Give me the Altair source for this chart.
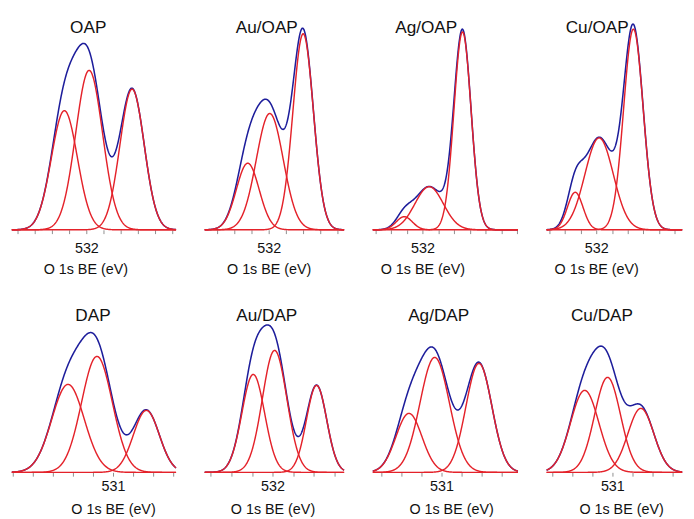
import numpy as np
import pandas as pd
import altair as alt

# ---- data (peak centre eV, height a.u., FWHM eV) ----
panels = ["OAP", "Au/OAP", "Ag/OAP", "Cu/OAP", "DAP", "Au/DAP", "Ag/DAP", "Cu/DAP"]
label_be = [532, 532, 532, 532, 531, 532, 531, 531]
be_left = [534.17, 533.86, 533.58, 533.58, 533.52, 533.65, 532.71, 532.64]
be_right = [529.39, 529.81, 528.97, 529.27, 529.43, 530.26, 529.10, 529.26]
peak_center = [
    [532.64, 531.92, 530.67],
    [532.61, 531.97, 531.00],
    [532.58, 531.79, 530.73],
    [532.67, 531.91, 530.82],
    [532.12, 531.40, 530.17],
    [532.47, 531.95, 530.93],
    [531.81, 531.17, 530.07],
    [531.69, 531.12, 530.29],
]
peak_height = [
    [127, 170, 150],
    [71, 124, 209],
    [14, 46, 211],
    [40, 98, 214],
    [88, 116, 62],
    [98, 122, 87],
    [59, 115, 109],
    [82, 95, 64],
]
peak_fwhm = [
    [0.89, 0.92, 0.83],
    [0.78, 0.92, 0.70],
    [0.60, 1.06, 0.64],
    [0.58, 1.06, 0.73],
    [0.95, 0.90, 0.76],
    [0.65, 0.70, 0.58],
    [0.76, 0.86, 0.76],
    [0.83, 0.76, 0.76],
]

# ---- layout / style ----
RED = "#e4222a"
BLUE = "#1d1d9b"
FONT = "Liberation Sans"
col_w = [172, 146, 152, 142]
row_h = [220, 179]
y_max = [224, 171]
title_x = [80, 65, 56, 53, 85, 65, 69, 58]
title_y = [0, 7]
axis_title_x = [77, 67, 52, 52, 106, 71, 82, 78]
label_pad = [8, 3]
title_pad = [7, 9]


def panel(i):
    r, c = divmod(i, 4)
    lo, hi = be_right[i], be_left[i]
    xs = np.linspace(lo, hi, 500)
    comps = []
    env = np.zeros_like(xs)
    for k, (cen, h, fw) in enumerate(zip(peak_center[i], peak_height[i], peak_fwhm[i])):
        s = fw / 2.3548
        yk = h * np.exp(-0.5 * ((xs - cen) / s) ** 2)
        env = env + yk
        comps.append(pd.DataFrame({"be": xs, "y": yk, "s": f"c{k}"}))
    comp_df = pd.concat(comps, ignore_index=True)
    env_df = pd.DataFrame({"be": xs, "y": env})

    start = np.ceil(lo * 2) / 2
    ticks = [round(v, 2) for v in np.arange(start, hi + 1e-9, 0.5)]
    lab = label_be[i]
    xenc = alt.X(
        "be:Q",
        scale=alt.Scale(domain=[lo, hi], reverse=True, nice=False, zero=False),
        axis=alt.Axis(
            values=ticks,
            labelExpr=f"datum.value == {lab} ? '{lab}' : ''",
            title="O 1s BE (eV)",
            domain=False,
            grid=False,
            tickColor="#8a8a8a",
            tickSize=4,
            labelFont=FONT,
            labelFontSize=15,
            labelColor="#111",
            labelPadding=label_pad[r],
            titleFont=FONT,
            titleFontSize=15,
            titleFontWeight="normal",
            titleColor="#111",
            titlePadding=title_pad[r],
            titleX=axis_title_x[i],
            labelFlush=False,
        ),
    )
    yenc = alt.Y("y:Q", scale=alt.Scale(domain=[0, y_max[r]]), axis=None)

    blue = alt.Chart(env_df).mark_line(color=BLUE, strokeWidth=1.6).encode(x=xenc, y=yenc)
    red = alt.Chart(comp_df).mark_line(color=RED, strokeWidth=1.5).encode(
        x=xenc, y=yenc, detail="s:N"
    )
    ttl = alt.Chart(pd.DataFrame({"t": [panels[i]]})).mark_text(
        font=FONT, fontSize=18, baseline="top", align="center", color="#111"
    ).encode(text="t:N", x=alt.value(title_x[i]), y=alt.value(title_y[r]))
    return alt.layer(blue, red, ttl).properties(width=col_w[c], height=row_h[r])


row1 = alt.hconcat(*[panel(i) for i in range(4)], spacing=22)
row2 = alt.hconcat(*[panel(i) for i in range(4, 8)], spacing=22)
chart = (
    alt.vconcat(row1, row2, spacing=26)
    .properties(padding=0, background="white")
    .configure_view(stroke=None)
)
chart.save("out.html", embed_options={"renderer": "svg", "actions": False})
